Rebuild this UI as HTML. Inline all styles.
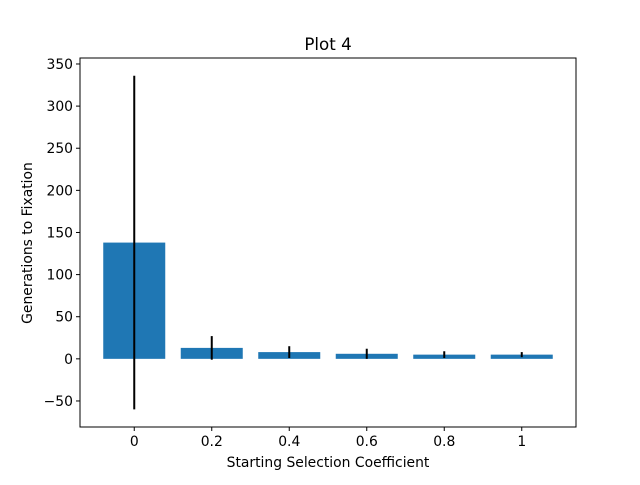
<!DOCTYPE html>
<html><head><meta charset="utf-8"><style>
body{margin:0;background:#fff;}
svg text{font-family:"DejaVu Sans","Liberation Sans",sans-serif;fill:#000;}
</style></head><body>
<svg id="chart" width="640" height="480" xmlns="http://www.w3.org/2000/svg">
<rect width="640" height="480" fill="#fff"/>
<text x="328" y="50" font-size="16.7" text-anchor="middle">Plot 4</text>
<g id="plot"></g>
<rect x="80" y="58" width="496" height="369" fill="none" stroke="#000" stroke-width="1"/>
<text x="328" y="467" font-size="13.9" text-anchor="middle">Starting Selection Coefficient</text>
<text transform="translate(32,243) rotate(-90)" font-size="13.9" text-anchor="middle">Generations to Fixation</text>
</svg>
<script>
const categories=["0","0.2","0.4","0.6","0.8","1"];
const values=[138,13,8,6,5,5];
const errors=[198,14,7,6,4,3];
const yTicks=[-50,0,50,100,150,200,250,300,350];
const ns="http://www.w3.org/2000/svg";
const g=document.getElementById("plot");
const X0=80,X1=576,Y0=58,Y1=427;
const xmin=-0.7,xmax=categories.length-1+0.7,ymin=-80.9,ymax=357.1;
function xs(i){return X0+(i-xmin)/(xmax-xmin)*(X1-X0);}
function ys(v){return Y1-(v-ymin)/(ymax-ymin)*(Y1-Y0);}
function mk(t,a){const e=document.createElementNS(ns,t);for(const k in a)e.setAttribute(k,a[k]);g.appendChild(e);return e;}
const bw=(xs(0.4)-xs(-0.4));
categories.forEach((c,i)=>{
  const top=ys(Math.max(values[i],0)),bot=ys(Math.min(values[i],0));
  const r=mk("rect",{x:xs(i)-bw/2,y:top,width:bw,height:bot-top,fill:"#1f77b4"});
  
  
  const l=mk("line",{x1:xs(i),x2:xs(i),y1:ys(values[i]+errors[i]),y2:ys(values[i]-errors[i]),stroke:"#000","stroke-width":2});
  
  
  const tk=mk("line",{x1:xs(i),x2:xs(i),y1:Y1,y2:Y1+4,stroke:"#000"});
  
  
  const t=mk("text",{x:xs(i),y:Y1+19,"font-size":13.9,"text-anchor":"middle"});
  t.textContent=c;
  
  
});
yTicks.forEach(v=>{
  const tk=mk("line",{x1:X0-4,x2:X0,y1:ys(v),y2:ys(v),stroke:"#000"});
  
  
  const t=mk("text",{x:X0-7,y:ys(v)+5,"font-size":13.9,"text-anchor":"end"});
  t.textContent=v<0?"\u2212"+Math.abs(v):v;
  
  
});
</script>
</body></html>
